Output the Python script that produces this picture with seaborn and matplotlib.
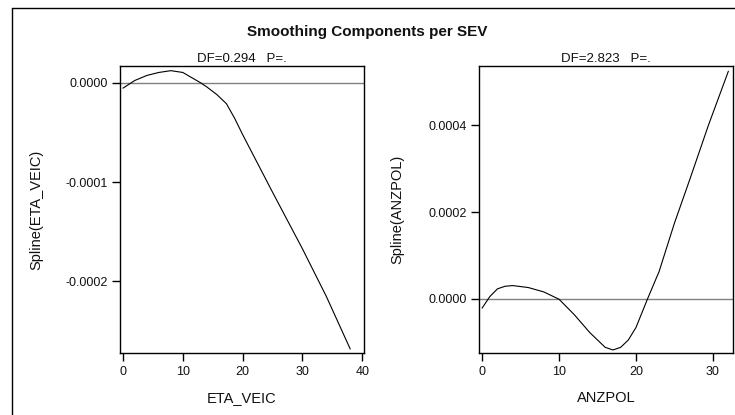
import matplotlib
matplotlib.use("Agg")
import matplotlib.pyplot as plt
from matplotlib.lines import Line2D
import seaborn as sns
import pandas as pd

# ---- data ----
title = "Smoothing Components per SEV"

eta_x = [0, 2, 4, 6, 8, 10, 12, 13, 14, 15.7, 17.3, 18.7, 20, 25, 30, 34, 38]
eta_y = [-0.0000053, 0.0000025, 0.0000075, 0.0000105, 0.0000123, 0.0000105,
         0.0000035, 0.0, -0.000004, -0.0000118, -0.000021, -0.000036,
         -0.000052, -0.000110, -0.000167, -0.000215, -0.000268]

anz_x = [0, 1, 2, 3, 4, 6, 8, 10, 12, 14, 16, 17, 18, 19, 20, 21.5, 23, 25,
         27, 29.4, 32]
anz_y = [-0.0000215, 0.000005, 0.000023, 0.000029, 0.0000305, 0.000026,
         0.000016, -0.000001, -0.000037, -0.000078, -0.000112, -0.000118,
         -0.000112, -0.000095, -0.000066, 0.0, 0.000063, 0.000175,
         0.000276, 0.0004, 0.000525]

panels = [
    dict(x=eta_x, y=eta_y, xname="ETA_VEIC", yname="Spline(ETA_VEIC)",
         sub="DF=0.294   P=.", xticks=[0, 10, 20, 30, 40],
         yticks=[0.0, -0.0001, -0.0002], xlim=(-0.5, 40.3),
         ylim=(-0.000272, 0.000017)),
    dict(x=anz_x, y=anz_y, xname="ANZPOL", yname="Spline(ANZPOL)",
         sub="DF=2.823   P=.", xticks=[0, 10, 20, 30],
         yticks=[0.0, 0.0002, 0.0004], xlim=(-0.4, 32.6),
         ylim=(-0.000125, 0.000537)),
]

sns.set_style("ticks")
plt.rcParams["font.family"] = ["Liberation Sans", "DejaVu Sans"]
plt.rcParams["axes.unicode_minus"] = False

W, H = 735, 415
fig = plt.figure(figsize=(W / 100, H / 100), dpi=100)
fig.patch.set_facecolor("white")

boxes = [(120, 66, 364, 353), (479, 66, 733, 353)]
ylab_x = [43, 404]

for p, (l, t, r, b), ylx in zip(panels, boxes, ylab_x):
    ax = fig.add_axes([l / W, 1 - b / H, (r - l) / W, (b - t) / H])
    ax.axhline(0, color="#808080", lw=1.0, zorder=1)
    df = pd.DataFrame({"x": p["x"], "y": p["y"]})
    sns.lineplot(data=df, x="x", y="y", ax=ax, color="black", lw=0.8,
                 sort=False, zorder=2)
    ax.set_xlim(*p["xlim"])
    ax.set_ylim(*p["ylim"])
    ax.set_xticks(p["xticks"])
    ax.set_xticklabels([str(v) for v in p["xticks"]])
    ax.set_yticks(p["yticks"])
    ax.set_yticklabels(["%.4f" % v for v in p["yticks"]])
    ax.tick_params(axis="both", direction="out", length=6, width=1,
                   color="black", labelsize=9, labelcolor="#111111", pad=3)
    for s in ax.spines.values():
        s.set_visible(True)
        s.set_color("black")
        s.set_linewidth(1.0)
    ax.set_xlabel(p["xname"], fontsize=10.5, color="#111111")
    ax.set_ylabel(p["yname"], fontsize=10.5, color="#111111")
    ax.xaxis.set_label_coords(0.5, -(391 - b) / (b - t))
    ax.yaxis.set_label_coords((ylx - l) / (r - l), 0.5)
    ax.set_title(p["sub"], fontsize=9.5, pad=3, color="#111111")

fig.text(0.5, 1 - 32 / H, title, ha="center", va="center",
         fontsize=11, fontweight="bold", color="#111111")

# outer frame (left and top edges visible)
fig.add_artist(Line2D([12 / W, 12 / W], [0, 1 - 8 / H], color="black", lw=1.0))
fig.add_artist(Line2D([12 / W, 1], [1 - 8 / H, 1 - 8 / H], color="black", lw=1.0))

fig.savefig("out.png", dpi=100, facecolor="white")
